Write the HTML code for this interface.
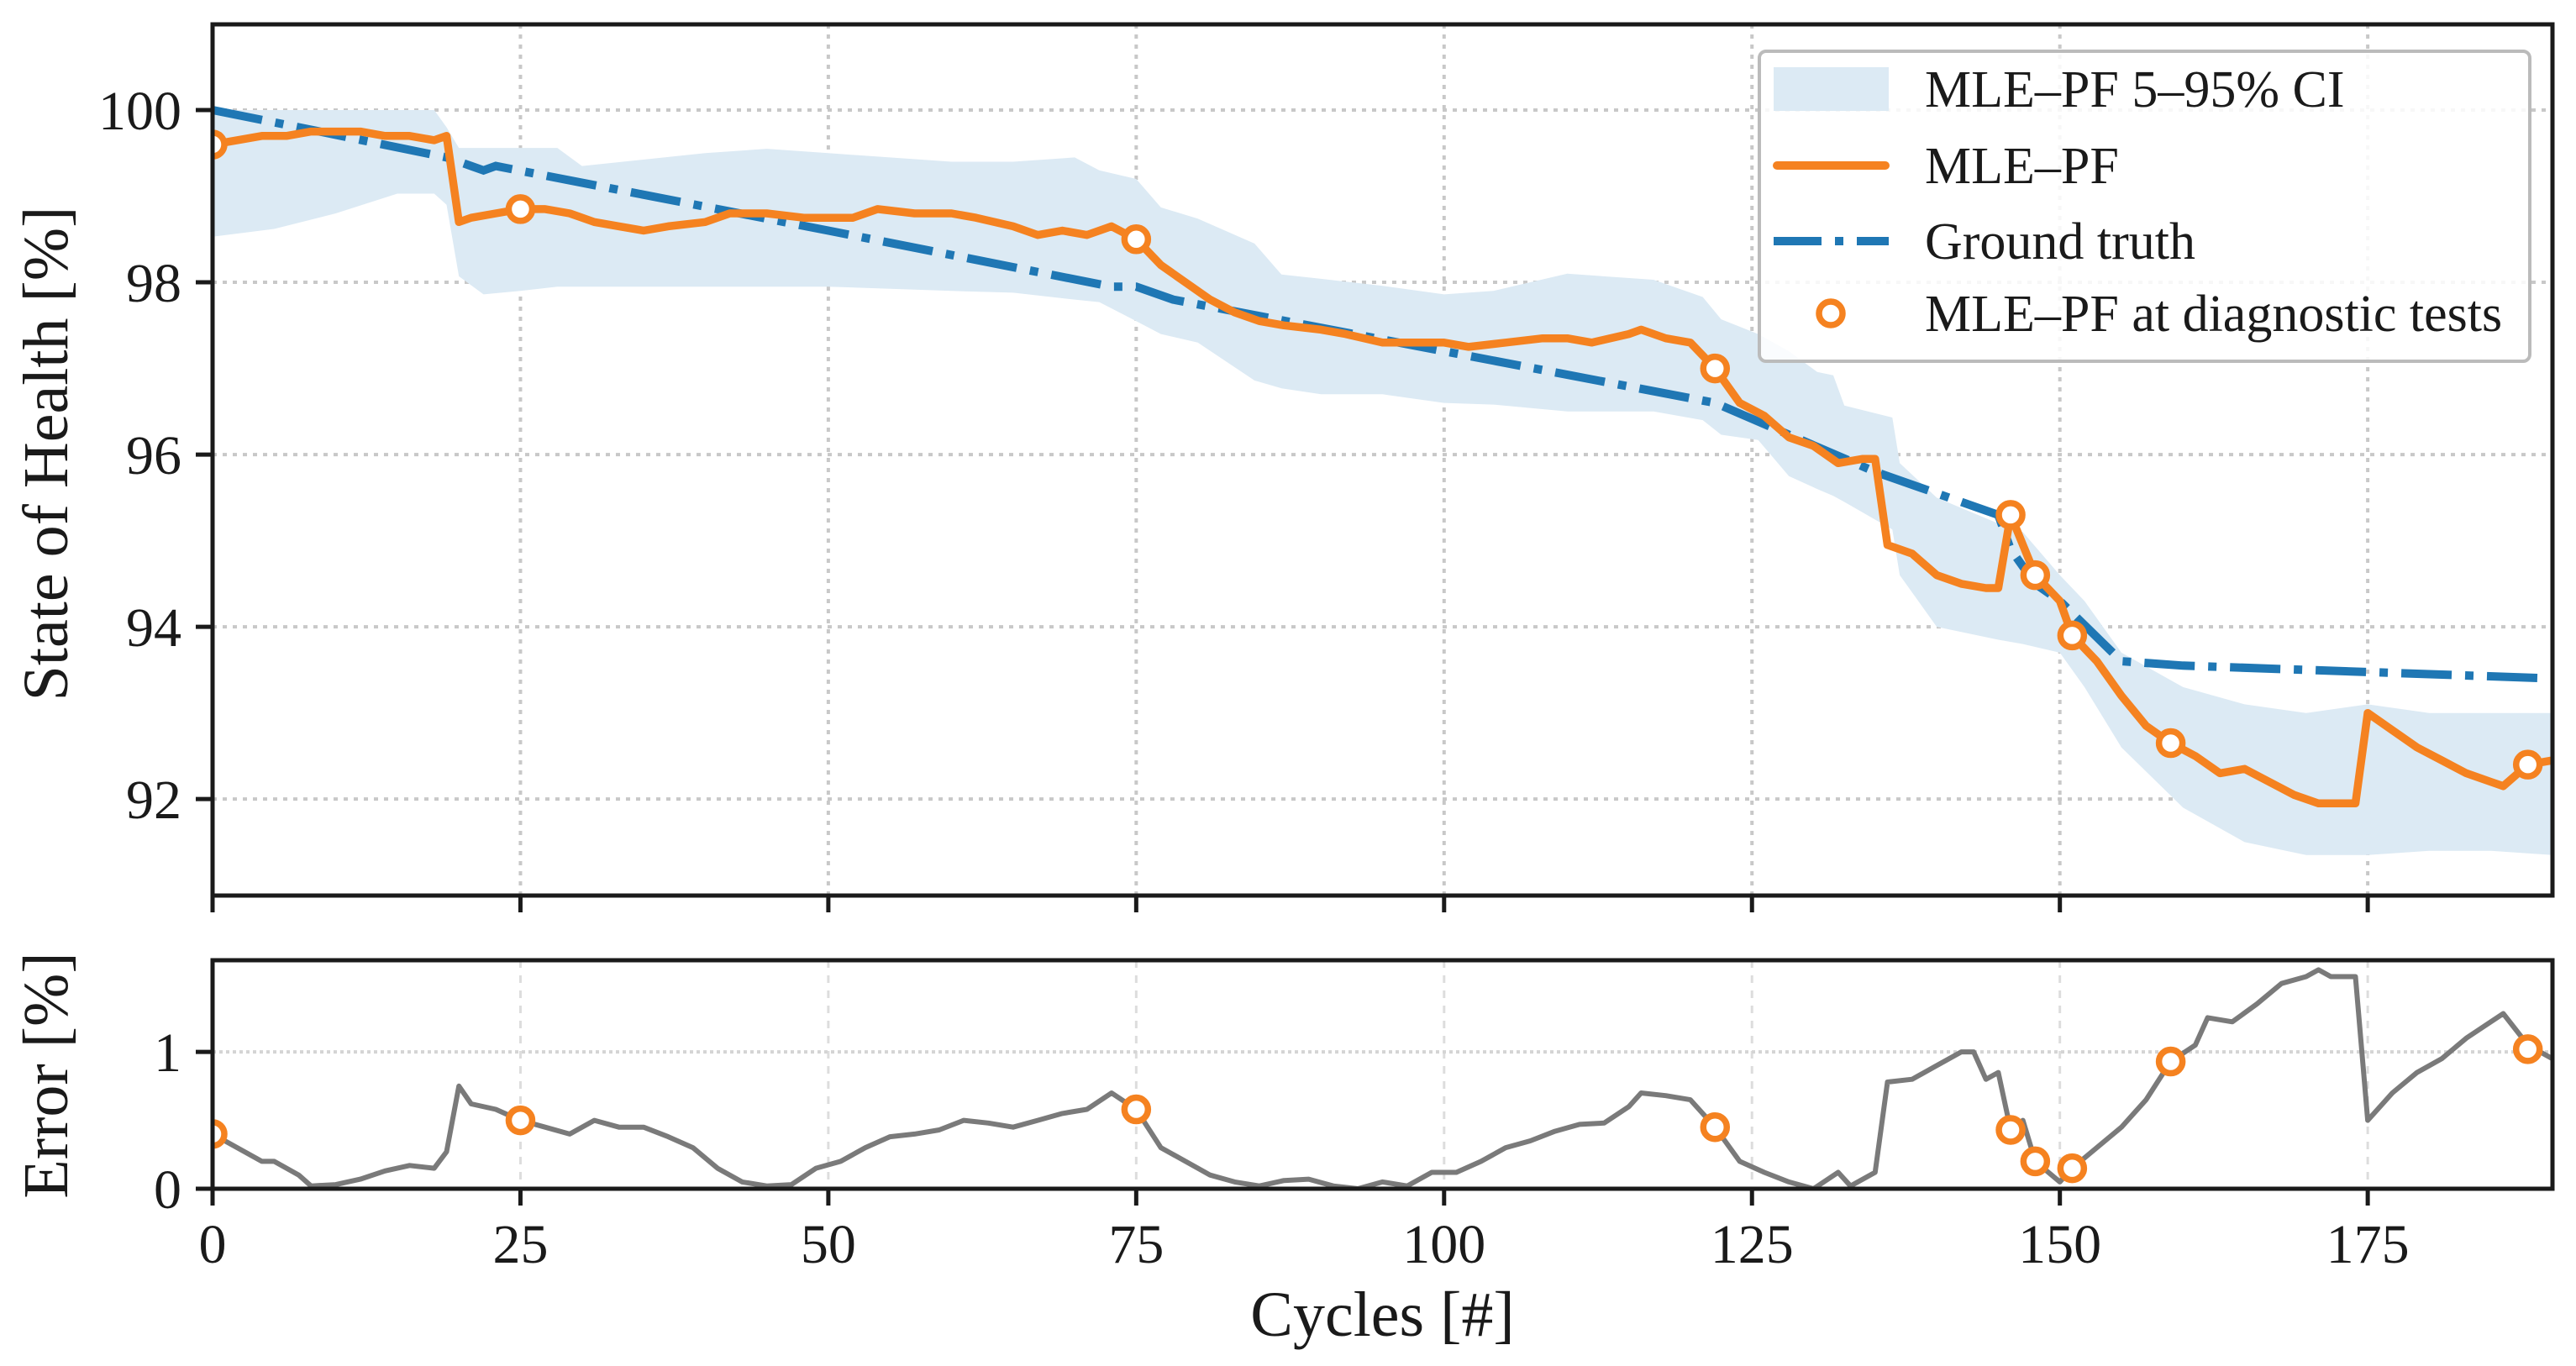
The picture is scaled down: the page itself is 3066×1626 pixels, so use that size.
<!DOCTYPE html>
<html><head><meta charset="utf-8"><style>
html,body{margin:0;padding:0;background:#fff;}
svg{display:block;font-family:"Liberation Serif","DejaVu Serif",serif;}
</style></head><body>
<svg id="chart" width="3066" height="1626" viewBox="0 0 3066 1626" xmlns="http://www.w3.org/2000/svg"></svg>
<script>
// ---- data ----
const pfCycles = [0,2,4,6,8,10,12,14,16,18,19,20,21,23,25,27,29,31,33,35,37,40,42,45,48,50,52,54,57,60,62,65,67,69,71,73,75,77,79,81,83,85,87,90,92,95,97,100,102,105,108,110,112,115,116,118,120,122,124,126,128,130,132,134,135,136,138,140,142,144,145,146,148,150,151,153,155,157,159,161,163,165,167,169,171,172,174,175,177,179,181,183,185,186,188,190];
const pfSoh = [99.6,99.65,99.7,99.7,99.75,99.75,99.75,99.7,99.7,99.65,99.7,98.7,98.75,98.8,98.85,98.85,98.8,98.7,98.65,98.6,98.65,98.7,98.8,98.8,98.75,98.75,98.75,98.85,98.8,98.8,98.75,98.65,98.55,98.6,98.55,98.65,98.5,98.2,98.0,97.8,97.65,97.55,97.5,97.45,97.4,97.3,97.3,97.3,97.25,97.3,97.35,97.35,97.3,97.4,97.45,97.35,97.3,97.0,96.6,96.45,96.2,96.1,95.9,95.95,95.95,94.95,94.85,94.6,94.5,94.45,94.45,95.3,94.6,94.3,93.9,93.6,93.2,92.85,92.65,92.5,92.3,92.35,92.2,92.05,91.95,91.95,91.95,93.0,92.8,92.6,92.45,92.3,92.2,92.15,92.4,92.45];
const truthCycles = [0,7,19,21,22,23,50,73,75,78,100,122,135,145,146,148,150,155,160,190];
const truthSoh = [100,99.8,99.45,99.35,99.3,99.35,98.6,97.95,97.95,97.8,97.2,96.6,95.8,95.3,94.9,94.5,94.3,93.6,93.55,93.4];
const ciCycles = [0,5,10,15,18,19,20,22,25,28,30,40,45,50,60,65,70,72,75,77,80,84.6,86.8,90,95,100,104,110,117,121,122.5,125.5,128,130.3,131.6,132.5,136.4,137,140,145,147,150,152,155,160,165,170,175,180,185,190];
const ciUpper = [100.0,100.0,100.0,100.0,100.0,99.8,99.56,99.56,99.56,99.56,99.35,99.5,99.55,99.5,99.4,99.4,99.45,99.3,99.2,98.87,98.74,98.45,98.09,98.04,97.96,97.86,97.9,98.1,98.03,97.83,97.57,97.4,97.2,96.96,96.92,96.57,96.43,95.9,95.5,95.2,95.1,94.6,94.3,93.7,93.3,93.1,93.0,93.1,93.0,93.0,93.0];
const ciLower = [98.53,98.62,98.8,99.03,99.03,98.9,98.07,97.86,97.9,97.95,97.95,97.95,97.95,97.95,97.9,97.88,97.8,97.77,97.55,97.4,97.3,96.86,96.77,96.7,96.7,96.6,96.58,96.5,96.5,96.4,96.23,96.17,95.75,95.6,95.52,95.45,95.13,94.6,94.0,93.85,93.8,93.7,93.3,92.6,91.9,91.5,91.35,91.35,91.4,91.4,91.35];
const diagCycles = [0,25,75,122,146,148,151,159,188];
const diagSoh = [99.6,98.85,98.5,97.0,95.3,94.6,93.9,92.65,92.4];
const errCycles = [0,2,4,5,7,8,10,12,14,16,18,19,20,21,23,25,27,29,31,33,35,37,39,41,43,45,47,49,51,53,55,57,59,61,63,65,67,69,71,73,75,77,79,81,83,85,87,89,91,93,95,97,99,101,103,105,107,109,111,113,115,116,118,120,122,124,126,128,130,132,133,135,136,138,140,142,143,144,145,146,147,148,150,151,153,155,157,159,161,162,164,166,168,170,171,172,174,175,177,179,181,183,185,186,188,190];
const errVals = [0.4,0.3,0.2,0.2,0.1,0.02,0.03,0.07,0.13,0.17,0.15,0.27,0.75,0.62,0.58,0.5,0.45,0.4,0.5,0.45,0.45,0.38,0.3,0.15,0.05,0.02,0.03,0.15,0.2,0.3,0.38,0.4,0.43,0.5,0.48,0.45,0.5,0.55,0.58,0.7,0.58,0.3,0.2,0.1,0.05,0.02,0.06,0.07,0.02,0.0,0.05,0.02,0.12,0.12,0.2,0.3,0.35,0.42,0.47,0.48,0.6,0.7,0.68,0.65,0.45,0.2,0.12,0.05,0.0,0.12,0.02,0.12,0.78,0.8,0.9,1.0,1.0,0.8,0.85,0.43,0.5,0.2,0.05,0.15,0.3,0.45,0.65,0.93,1.05,1.25,1.22,1.35,1.5,1.55,1.6,1.55,1.55,0.5,0.7,0.85,0.95,1.1,1.22,1.28,1.05,0.95];
const diagErr = [0.4,0.5,0.58,0.45,0.43,0.2,0.15,0.93,1.02];
const xTicks = [0,25,50,75,100,125,150,175];
const ySohTicks = [92,94,96,98,100];
const yErrTicks = [0,1];

// ---- layout ----
const L=253,R=3038;
const T1=29,B1=1066,T2=1143,B2=1415;
const yMin1=90.88,yMax1=100.995,yMin2=0,yMax2=1.67,xMin=0,xMax=190;
const sx=v=>L+(v-xMin)/(xMax-xMin)*(R-L);
const sy1=v=>B1-(v-yMin1)/(yMax1-yMin1)*(B1-T1);
const sy2=v=>B2-(v-yMin2)/(yMax2-yMin2)*(B2-T2);
const NS='http://www.w3.org/2000/svg';
const svg=document.getElementById('chart');
function mk(tag,attrs,parent){const e=document.createElementNS(NS,tag);for(const k in attrs)e.setAttribute(k,attrs[k]);(parent||svg).appendChild(e);return e;}
function pts(xs,ys,fy){return xs.map((x,i)=>sx(x).toFixed(1)+','+fy(ys[i]).toFixed(1)).join(' ');}

mk('defs',{}).innerHTML='<clipPath id="c1"><rect x="'+L+'" y="'+T1+'" width="'+(R-L)+'" height="'+(B1-T1)+'"/></clipPath><clipPath id="c2"><rect x="'+L+'" y="'+T2+'" width="'+(R-L)+'" height="'+(B2-T2)+'"/></clipPath>';

const GC='#c8c8c8';
const grid=mk('g',{});


xTicks.forEach(t=>{
  mk('line',{x1:sx(t),x2:sx(t),y1:T1,y2:B1,stroke:GC,'stroke-width':4,'stroke-dasharray':'5,7'},grid);
  mk('line',{x1:sx(t),x2:sx(t),y1:T2,y2:B2,stroke:'#dddddd','stroke-width':3,'stroke-dasharray':'9,9'},grid);
});
ySohTicks.forEach(t=>mk('line',{x1:L,x2:R,y1:sy1(t),y2:sy1(t),stroke:GC,'stroke-width':4,'stroke-dasharray':'5,7'},grid));
yErrTicks.forEach(t=>mk('line',{x1:L,x2:R,y1:sy2(t),y2:sy2(t),stroke:'#d4d4d4','stroke-width':4,'stroke-dasharray':'4,4'},grid));

// top plot
const g1=mk('g',{'clip-path':'url(#c1)'});


const band=mk('polygon',{points:pts(ciCycles,ciUpper,sy1)+' '+pts(ciCycles.slice().reverse(),ciLower.slice().reverse(),sy1),fill:'#dceaf4'},g1);


const truth=mk('polyline',{points:pts(truthCycles,truthSoh,sy1),fill:'none',stroke:'#1f77b4','stroke-width':10,'stroke-dasharray':'60,16,10,16'},g1);


const pf=mk('polyline',{points:pts(pfCycles,pfSoh,sy1),fill:'none',stroke:'#f58220','stroke-width':9.5,'stroke-linejoin':'round'},g1);


diagCycles.forEach((c,i)=>{
  const m=mk('circle',{cx:sx(c),cy:sy1(diagSoh[i]),r:14,fill:'#fff',stroke:'#f58220','stroke-width':7.5},g1);
  
  
});

// bottom plot
const g2=mk('g',{'clip-path':'url(#c2)'});


const err=mk('polyline',{points:pts(errCycles,errVals,sy2),fill:'none',stroke:'#7a7a7a','stroke-width':6,'stroke-linejoin':'round'},g2);


diagCycles.forEach((c,i)=>{
  const m=mk('circle',{cx:sx(c),cy:sy2(diagErr[i]),r:14,fill:'#fff',stroke:'#f58220','stroke-width':7.5},g2);
  
  
});

// frames
const f1=mk('rect',{x:L,y:T1,width:R-L,height:B1-T1,fill:'none',stroke:'#1a1a1a','stroke-width':5});


const f2=mk('rect',{x:L,y:T2,width:R-L,height:B2-T2,fill:'none',stroke:'#1a1a1a','stroke-width':5});



// ticks
xTicks.forEach(t=>{
  mk('line',{x1:sx(t),x2:sx(t),y1:B1,y2:B1+20,stroke:'#1a1a1a','stroke-width':5});
  mk('line',{x1:sx(t),x2:sx(t),y1:B2,y2:B2+20,stroke:'#1a1a1a','stroke-width':5});
  const tl=mk('text',{x:sx(t),y:1503,'font-size':66,'text-anchor':'middle',fill:'#1a1a1a'});
  tl.textContent=t;
  
  
});
ySohTicks.forEach(t=>{
  mk('line',{x1:L-20,x2:L,y1:sy1(t),y2:sy1(t),stroke:'#1a1a1a','stroke-width':5});
  const tl=mk('text',{x:216,y:sy1(t)+23,'font-size':66,'text-anchor':'end',fill:'#1a1a1a'});
  tl.textContent=t;
  
  
});
yErrTicks.forEach(t=>{
  mk('line',{x1:L-20,x2:L,y1:sy2(t),y2:sy2(t),stroke:'#1a1a1a','stroke-width':5});
  const tl=mk('text',{x:216,y:sy2(t)+23,'font-size':66,'text-anchor':'end',fill:'#1a1a1a'});
  tl.textContent=t;
  
  
});

// axis labels
const yl=mk('text',{x:0,y:0,'font-size':76,'text-anchor':'middle',fill:'#1a1a1a',transform:'translate(80,540) rotate(-90)'});
yl.textContent='State of Health [%]';


const el=mk('text',{x:0,y:0,'font-size':76,'text-anchor':'middle',fill:'#1a1a1a',transform:'translate(80,1280) rotate(-90)'});
el.textContent='Error [%]';


const xl=mk('text',{x:(L+R)/2,y:1590,'font-size':76,'text-anchor':'middle',fill:'#1a1a1a'});
xl.textContent='Cycles [#]';



// legend
const lg=mk('g',{});


mk('rect',{x:2094,y:61,width:917,height:369,rx:8,fill:'#fff','fill-opacity':0.85,stroke:'#bbbbbb','stroke-width':4},lg);
mk('rect',{x:2111,y:80,width:137,height:52,fill:'#dceaf4'},lg);
mk('line',{x1:2115,x2:2244,y1:197,y2:197,stroke:'#f58220','stroke-width':10,'stroke-linecap':'round'},lg);
mk('line',{x1:2111,x2:2248,y1:287,y2:287,stroke:'#1f77b4','stroke-width':10,'stroke-dasharray':'57,16,10,16'},lg);
mk('circle',{cx:2179,cy:373,r:14,fill:'#fff',stroke:'#f58220','stroke-width':7.5},lg);
[['MLE–PF 5–95% CI',106],['MLE–PF',197],['Ground truth',287],['MLE–PF at diagnostic tests',373]].forEach(([s,y])=>{
  const t=mk('text',{x:2291,y:y+21,'font-size':62,fill:'#1a1a1a'},lg);
  t.textContent=s;
  
  
});
</script>
</body></html>
